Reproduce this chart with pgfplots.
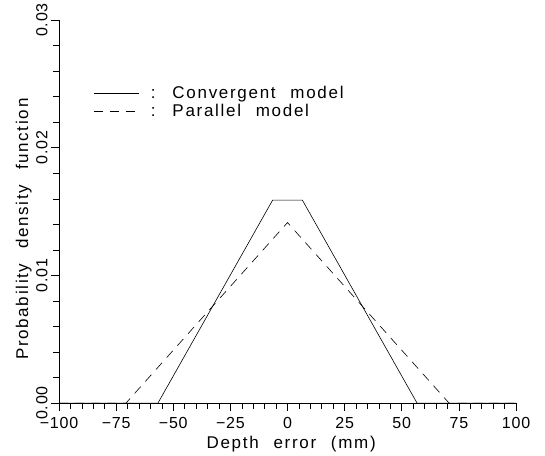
\documentclass[border=0pt]{standalone}
\usepackage{fontspec}
\setmainfont{Liberation Sans}
\newfontfamily\lblfont[LetterSpace=10, WordSpace=2.3]{Liberation Sans}
\newfontfamily\tkfont[LetterSpace=5]{Liberation Sans}
\usepackage{pgfplots}
\pgfplotsset{compat=1.18}
\begin{document}
\begin{tikzpicture}
\begin{axis}[
  at={(0pt,0pt)}, anchor=south west,
  scale only axis, width=457pt, height=383pt,
  xmin=-100, xmax=100, ymin=0, ymax=0.03,
  axis lines*=left,
  axis line style={line width=0.7pt},
  tick align=outside,
  tick style={black, line width=0.6pt},
  major tick length=8pt,
  scaled y ticks=false,
  xtick={-100,-75,-50,-25,0,25,50,75,100},
  xticklabels={−100,−75,−50,−25,0,25,50,75,100},
  extra x ticks={-95,-90,-85,-80,-70,-65,-60,-55,-45,-40,-35,-30,-20,-15,-10,-5,5,10,15,20,30,35,40,45,55,60,65,70,80,85,90,95},
  extra x tick labels={},
  extra x tick style={major tick length=6pt},
  ytick={0,0.01,0.02,0.03},
  yticklabels={0.00,0.01,0.02,0.03},
  extra y ticks={0.002,0.004,0.006,0.008,0.012,0.014,0.016,0.018,0.022,0.024,0.026,0.028},
  extra y tick labels={},
  extra y tick style={major tick length=6pt},
  yticklabel style={rotate=90, anchor=south, xshift=0pt},
  xticklabel style={yshift=-3pt},
  ticklabel style={font=\tkfont\fontsize{16}{18}\selectfont},
  label style={font=\lblfont\fontsize{17}{19}\selectfont},
  xlabel={Depth error (mm)},
  ylabel={Probability density function},
  xlabel style={at={(axis description cs:0.508,-0.107)}, anchor=center},
  ylabel style={at={(axis description cs:-0.077,0.454)}, anchor=center},
  legend style={draw=none, fill=none, at={(0.068,0.835)}, anchor=north west,
    font=\lblfont\fontsize{17}{18}\selectfont, row sep=2pt,
    nodes={inner sep=1pt}},
  legend cell align=left,
  legend image code/.code={\draw[#1] (0pt,0pt) -- (45pt,0pt);},
]
\addplot[black, line width=0.6pt] coordinates {(-100,0) (-56.7,0) (-6.5,0.0159) (6.5,0.0159) (56.7,0) (100,0)};
\addlegendentry{\hspace{11pt}: Convergent model}
\addplot[black, line width=0.6pt, dash pattern=on 9pt off 7pt] coordinates {(-100,0) (-70.7,0) (0,0.01414) (70.7,0) (100,0)};
\addlegendentry{\hspace{11pt}: Parallel model}
\end{axis}
\path (-59pt,-52pt) rectangle (486pt,403pt);
\end{tikzpicture}
\end{document}
